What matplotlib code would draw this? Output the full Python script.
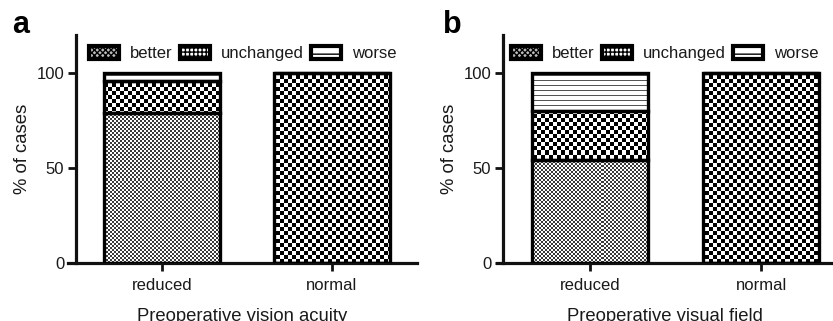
import numpy as np
import matplotlib
matplotlib.use("Agg")
import matplotlib.pyplot as plt
from matplotlib.patches import Patch

plt.rcParams['font.family'] = ['Liberation Sans', 'DejaVu Sans']

categories = ["reduced", "normal"]
series_names = ["better", "unchanged", "worse"]
# panel a: Preoperative vision acuity
a_better = [79, 0]
a_unchanged = [17, 100]
a_worse = [4, 0]
# panel b: Preoperative visual field
b_better = [54, 0]
b_unchanged = [26, 100]
b_worse = [20, 0]

panels = [
    ("a", "Preoperative vision acuity", a_better, a_unchanged, a_worse),
    ("b", "Preoperative visual field", b_better, b_unchanged, b_worse),
]

W, H = 833, 321
fig = plt.figure(figsize=(W / 100, H / 100), dpi=100)

axes_px = [(68, 417, 76, -0.553, 1.50), (497, 833, 503, -0.544, 1.42)]
bottom_px, top_px = 263, 35
text_col = '#1a1a1a'


def checker(ny, nx, cell, c1, c2):
    yy, xx = np.mgrid[0:ny, 0:nx]
    m = ((yy // cell + xx // cell) % 2).astype(bool)
    img = np.ones((ny, nx, 3))
    img[m] = matplotlib.colors.to_rgb(c1)
    img[~m] = matplotlib.colors.to_rgb(c2)
    return img


def hlines(ny, nx, spacing, c):
    img = np.ones((ny, nx, 3))
    img[::spacing] = matplotlib.colors.to_rgb(c)
    return img


for (letter, xlabel, better, unchanged, worse), (l, r, spx, x0, x1) in zip(panels, axes_px):
    ax = fig.add_axes([l / W, (H - bottom_px) / H, (r - l) / W, (bottom_px - top_px) / H])
    ax.set_xlim(x0, x1)
    ax.set_ylim(0, 120)
    x = np.arange(len(categories))
    width = 0.68
    pw, ph = r - l, bottom_px - top_px
    textures = [checker(ph, pw, 2, '#3a3a3a', 'white'),
                checker(ph, pw, 4, 'black', 'white'),
                hlines(ph, pw, 5, '#555555')]
    bottoms = np.zeros(len(categories))
    for vals, tex in zip([better, unchanged, worse], textures):
        vals = np.array(vals, dtype=float)
        bars = ax.bar(x, vals, width, bottom=bottoms, color='white', edgecolor='none', zorder=1)
        for b, v in zip(bars, vals):
            if v <= 0:
                continue
            im = ax.imshow(tex, extent=(x0, x1, 0, 120), origin='upper',
                           interpolation='nearest', aspect='auto', zorder=1.5)
            im.set_clip_path(b)
        ax.bar(x, vals, width, bottom=bottoms, fill=False, edgecolor='black',
               linewidth=2.4, zorder=3)
        bottoms += vals
    ax.set_xlim(x0, x1)
    ax.set_ylim(0, 120)

    for s in ['top', 'right']:
        ax.spines[s].set_visible(False)
    ax.spines['left'].set_position(('axes', (spx - l) / (r - l)))
    ax.spines['left'].set_bounds(0, 120)
    for s in ['left', 'bottom']:
        ax.spines[s].set_linewidth(2.3)
        ax.spines[s].set_color('#111111')
    ax.set_yticks([0, 50, 100])
    ax.set_xticks(x)
    ax.set_xticklabels(categories)
    ax.tick_params(axis='both', width=2.0, length=5.5, labelsize=12, colors='#111111',
                   labelcolor=text_col)
    ax.tick_params(axis='y', pad=3)
    ax.tick_params(axis='x', pad=5)
    ax.set_xlabel(xlabel, fontsize=13.3, color=text_col, labelpad=11)
    ax.set_ylabel("% of cases", fontsize=13.3, color=text_col, labelpad=4)

    handles = [
        Patch(facecolor='#bbbbbb', edgecolor='black', hatch='xxxxxx', linewidth=3),
        Patch(facecolor='white', edgecolor='black', hatch='++++', linewidth=3),
        Patch(facecolor='white', edgecolor='black', hatch='--', linewidth=3),
    ]
    leg = ax.legend(handles, series_names, loc='upper center', bbox_to_anchor=(0.5, 0.98),
                    ncol=3, frameon=False, fontsize=12, handlelength=1.8, handleheight=0.8,
                    handletextpad=0.65, columnspacing=0.45, borderaxespad=0)
    for t in leg.get_texts():
        t.set_color(text_col)

    fig.text((l - 56 if letter == 'a' else l - 54) / W, 1 - 33 / H, letter,
             fontsize=22, fontweight='bold', color='black', ha='left', va='baseline')

fig.savefig("out.png", dpi=100)
